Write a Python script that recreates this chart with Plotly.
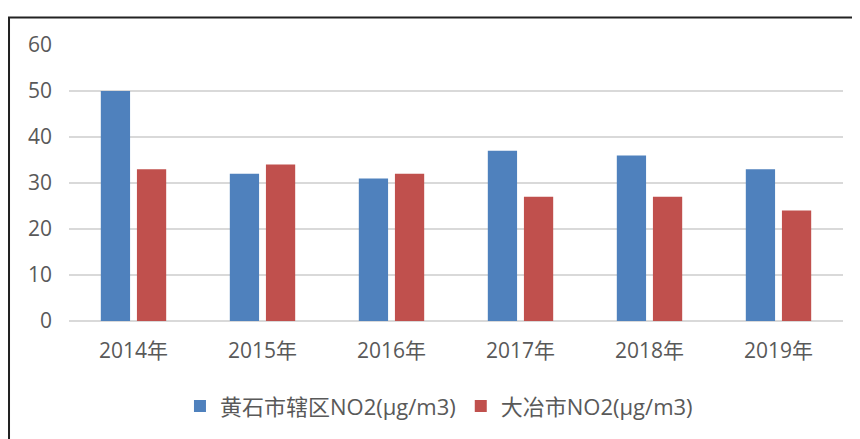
import plotly.graph_objects as go

years = ["2014年", "2015年", "2016年", "2017年", "2018年", "2019年"]
huangshi = [50, 32, 31, 37, 36, 33]
daye = [33, 34, 32, 27, 27, 24]

BLUE = "#4F81BD"
RED = "#C0504D"
TXT = "#595959"
GRID = "#D9D9D9"
FONT = "Open Sans, Noto Sans CJK SC, sans-serif"

fig = go.Figure()
fig.add_trace(go.Bar(x=years, y=huangshi, name="黄石市辖区NO2(μg/m3)",
                     marker=dict(color=BLUE, line=dict(width=0))))
fig.add_trace(go.Bar(x=years, y=daye, name="大冶市NO2(μg/m3)",
                     marker=dict(color=RED, line=dict(width=0))))

# outer frame, only top and left edges visible in the crop
fig.add_shape(type="rect", xref="paper", yref="paper",
              x0=-0.0775, x1=1.2, y0=-0.6, y1=1.1,
              line=dict(color="#222222", width=2), layer="below")

fig.update_layout(
    width=852, height=431,
    margin=dict(l=61, r=17, t=37, b=116),
    paper_bgcolor="white", plot_bgcolor="white",
    barmode="group", bargap=0.44, bargroupgap=0.19,
    font=dict(family=FONT, color=TXT, size=21),
    xaxis=dict(showgrid=False, ticks="", showline=False,
               ticklabelstandoff=15,
               tickfont=dict(size=21, color=TXT)),
    yaxis=dict(range=[0, 60], dtick=10, gridcolor=GRID, gridwidth=1.5,
               zeroline=True, zerolinecolor=GRID, zerolinewidth=1.5,
               showline=False, ticks="", ticklabelstandoff=16,
               tickfont=dict(size=21, color=TXT)),
    legend=dict(orientation="h", x=0.478, xanchor="center", y=-0.233,
                yanchor="top", font=dict(size=22, color=TXT),
                itemwidth=30),
    showlegend=True,
)

fig.write_html("out.html")
